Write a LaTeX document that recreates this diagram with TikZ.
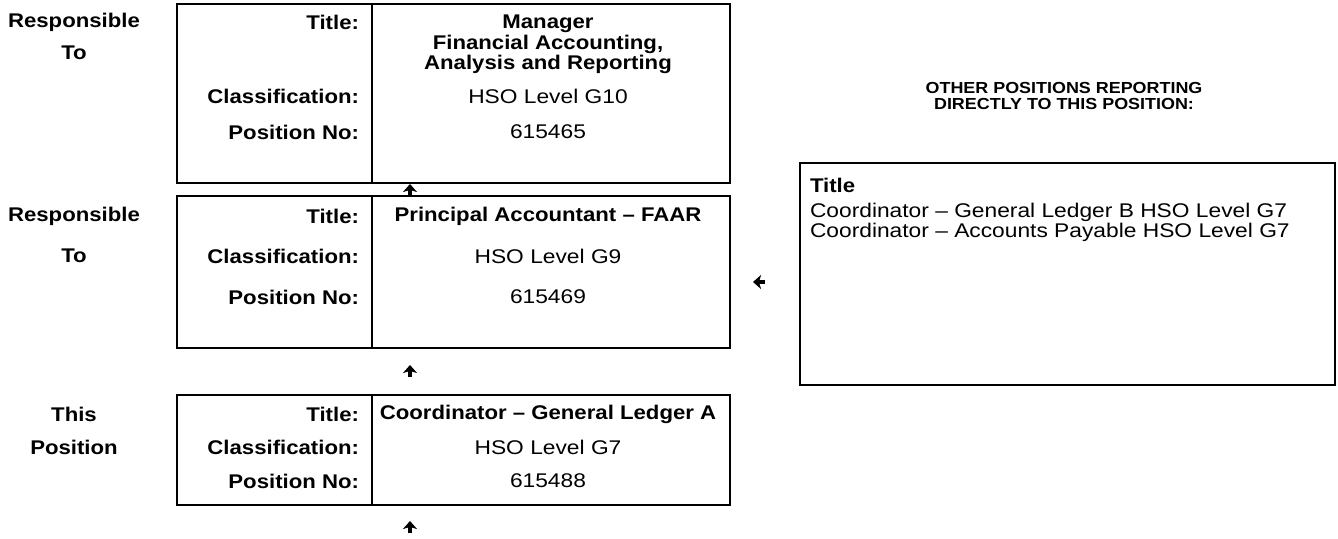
\documentclass[tikz,border=0pt]{standalone}
\usepackage{fontspec}
\setmainfont{Liberation Sans}[FakeStretch=1.15, BoldFeatures={FakeStretch=1.12}]
\usetikzlibrary{arrows.meta}

\begin{document}
\begin{tikzpicture}[x=0.5pt,y=-0.5pt,
	every node/.style={inner sep=0pt, outer sep=0pt, font=\fontsize{9.9}{8.8}\selectfont},
	box/.style={draw=black, line width=1pt, anchor=north west, minimum width=276.5pt},
	rule/.style={draw=black, line width=0.8pt},
	lbl/.style={anchor=east, font=\fontsize{9.9}{8.8}\selectfont\bfseries},
	val/.style={anchor=center},
	side/.style={anchor=center, font=\fontsize{9.9}{8.8}\selectfont\bfseries},
	arr/.style={line width=1.8pt, -{Stealth[length=4pt, width=7pt, inset=1pt]}}]
			\useasboundingbox (0,0) rectangle (1338,539);
			
			% the three boxes
			\node[box, minimum height=89.5pt] (mgr) at (177,4) {};
			\node[box, minimum height=76pt] (pa) at (177,196) {};
			\node[box, minimum height=55pt] (gla) at (177,395) {};
			\foreach \b in {mgr,pa,gla}
				\draw[rule] ([xshift=97.5pt]\b.north west) -- ([xshift=97.5pt]\b.south west);
			
			\node[side] (rt1) at (74,22) {Responsible};
			\node[side] (to1) at (74,53) {To};
			\node[lbl] (mgrt) at (359,22) {Title:};
			\node[val, align=center, font=\fontsize{9.9}{8.8}\selectfont\bfseries, anchor=north] (mgrtv) at (548,15) {Manager\\Financial Accounting,\\Analysis and Reporting};
			\node[lbl] (mgrc) at (359,96) {Classification:};
			\node[val] (mgrcv) at (548,96) {HSO Level G10};
			\node[lbl] (mgrp) at (359,132) {Position No:};
			\node[val] (mgrpv) at (548,132) {615465};
			
			\node[side] (rt2) at (74,216) {Responsible};
			\node[side] (to2) at (74,256) {To};
			\node[lbl] (pat) at (359,216) {Title:};
			\node[val, font=\fontsize{9.9}{8.8}\selectfont\bfseries] (patv) at (548,216) {Principal Accountant -- FAAR};
			\node[lbl] (pac) at (359,256) {Classification:};
			\node[val] (pacv) at (548,256) {HSO Level G9};
			\node[lbl] (pap) at (359,297) {Position No:};
			\node[val] (papv) at (548,297) {615469};
			
			\node[side] (this) at (74,414) {This};
			\node[side] (pos) at (74,447) {Position};
			\node[lbl] (glat) at (359,414) {Title:};
			\node[val, font=\fontsize{9.9}{8.8}\selectfont\bfseries] (glatv) at (548,414) {Coordinator -- General Ledger A};
			\node[lbl] (glac) at (359,447) {Classification:};
			\node[val] (glacv) at (548,447) {HSO Level G7};
			\node[lbl] (glap) at (359,481) {Position No:};
			\node[val] (glapv) at (548,481) {615488};
			
			% other positions
			\node[side, align=center, font=\fontsize{8}{7.8}\selectfont\bfseries] (head) at (1064,96) {OTHER POSITIONS REPORTING\\DIRECTLY TO THIS POSITION:};
			\node[box, minimum width=267.5pt, minimum height=111pt] (others) at (800,163) {};
			\node[anchor=west, font=\fontsize{9.9}{8.8}\selectfont\bfseries] (ot) at (810,185) {Title};
			\node[anchor=west] (o1) at (810,212) {Coordinator -- General Ledger B HSO Level G7};
			\node[anchor=west] (o2) at (810,232) {Coordinator -- Accounts Payable HSO Level G7};
			
			% arrows
			\coordinate (u1) at (410,195);
			\coordinate (u1t) at (410,184);
			\coordinate (u2) at (410,377);
			\coordinate (u2t) at (410,365);
			\coordinate (l1) at (765,282);
			\coordinate (l1t) at (753,282);
			\coordinate (u3) at (410,533);
			\coordinate (u3t) at (410,521);
			\path[arr] (u1) edge (u1t);
			\path[arr] (u2) edge (u2t);
			\path[arr] (u3) edge (u3t);
			\path[arr] (l1) edge (l1t);
\end{tikzpicture}
\end{document}
